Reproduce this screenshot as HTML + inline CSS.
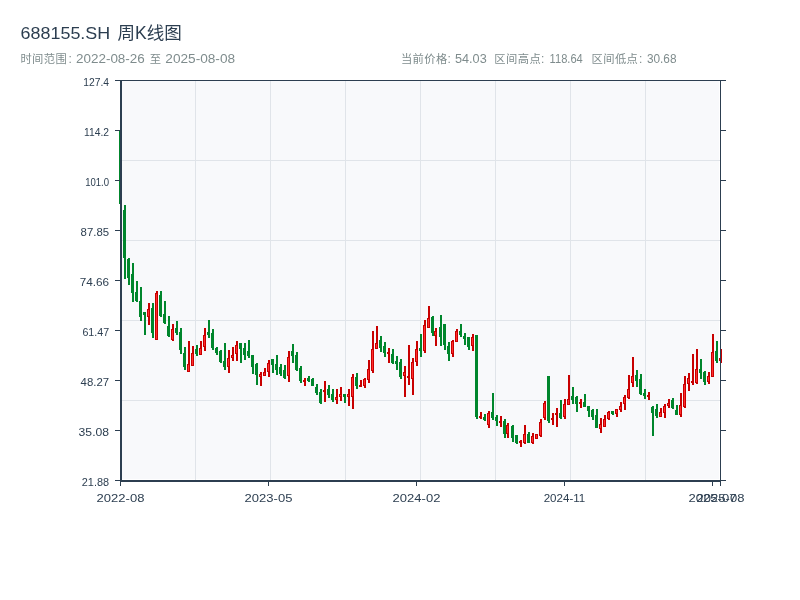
<!DOCTYPE html>
<html lang="zh-CN"><head><meta charset="utf-8"><title>688155.SH 周K线图</title>
<style>html,body{margin:0;padding:0;background:#fff}body{width:800px;height:600px;overflow:hidden}svg{display:block;will-change:transform}text{font-family:"Liberation Sans","Noto Sans CJK SC",sans-serif}.t{font-size:17.5px;fill:#2c3e50}.s{font-size:12px;fill:#7f8c8d}.l{font-size:11px;fill:#2c3e50}.c{font-size:11.3px}</style></head><body>
<svg width="800" height="600" viewBox="0 0 800 600">
<rect width="800" height="600" fill="#fff"/>
<g>
<text class="t" id="title" y="39.4"><tspan x="20.6" font-size="16.6" textLength="94.6" lengthAdjust="spacingAndGlyphs">688155.SH </tspan><tspan x="117.4" textLength="64.4" lengthAdjust="spacingAndGlyphs">周K线图</tspan></text>
<text class="s" id="sub1" y="62.6" x="20.4 32.1 43.8 55.5 68.6"><tspan class="c">时间范围</tspan>:</text>
<text class="s" id="sub2" x="76" y="62.6" textLength="68.8" lengthAdjust="spacingAndGlyphs">2022-08-26</text>
<text class="s c" id="sub3" x="149.7" y="62.6">至</text>
<text class="s" id="sub4" x="165.3" y="62.6" textLength="69.8" lengthAdjust="spacingAndGlyphs">2025-08-08</text>
<text class="s" id="st1" y="62.6" x="400.9 412.6 424.3 436.0 447.6"><tspan class="c">当前价格</tspan>:</text>
<text class="s" id="st2" x="455" y="62.6" textLength="31.7" lengthAdjust="spacingAndGlyphs">54.03</text>
<text class="s" id="st3" y="62.6" x="494.3 506.0 517.7 529.4 540.9"><tspan class="c">区间高点</tspan>:</text>
<text class="s" id="st4" x="549.6" y="62.6" textLength="33.15" lengthAdjust="spacingAndGlyphs">118.64</text>
<text class="s" id="st5" y="62.6" x="591.5 603.2 614.9 626.6 639.1"><tspan class="c">区间低点</tspan>:</text>
<text class="s" id="st6" x="646.9" y="62.6" textLength="29.6" lengthAdjust="spacingAndGlyphs">30.68</text>
</g>
<g shape-rendering="crispEdges">
<rect x="122" y="81" width="597" height="398" fill="#f8f9fb"/>
<rect x="195" y="81" width="1" height="399" fill="#e0e4e9"/>
<rect x="270" y="81" width="1" height="399" fill="#e0e4e9"/>
<rect x="345" y="81" width="1" height="399" fill="#e0e4e9"/>
<rect x="420" y="81" width="1" height="399" fill="#e0e4e9"/>
<rect x="495" y="81" width="1" height="399" fill="#e0e4e9"/>
<rect x="570" y="81" width="1" height="399" fill="#e0e4e9"/>
<rect x="645" y="81" width="1" height="399" fill="#e0e4e9"/>
<rect x="122" y="160" width="598" height="1" fill="#e0e4e9"/>
<rect x="122" y="240" width="598" height="1" fill="#e0e4e9"/>
<rect x="122" y="320" width="598" height="1" fill="#e0e4e9"/>
<rect x="122" y="400" width="598" height="1" fill="#e0e4e9"/>
<rect x="120" y="114" width="2" height="91" fill="#00862c"/>
<rect x="119" y="131" width="3" height="73" fill="#00862c"/>
<rect x="124" y="205" width="2" height="74" fill="#00862c"/>
<rect x="123" y="210" width="3" height="48" fill="#00862c"/>
<rect x="128" y="258" width="2" height="27" fill="#00862c"/>
<rect x="127" y="259" width="3" height="19" fill="#00862c"/>
<rect x="132" y="263" width="2" height="39" fill="#00862c"/>
<rect x="131" y="274" width="3" height="19" fill="#00862c"/>
<rect x="136" y="281" width="2" height="21" fill="#00862c"/>
<rect x="135" y="292" width="3" height="9" fill="#00862c"/>
<rect x="140" y="287" width="2" height="34" fill="#00862c"/>
<rect x="139" y="301" width="3" height="16" fill="#00862c"/>
<rect x="144" y="312" width="2" height="23" fill="#00862c"/>
<rect x="143" y="312" width="3" height="3" fill="#00862c"/>
<rect x="148" y="303" width="2" height="22" fill="#c80000"/>
<rect x="147" y="309" width="3" height="8" fill="#c80000"/>
<rect x="148" y="310" width="1" height="6" fill="#ff2d2d"/>
<rect x="149" y="310" width="1" height="6" fill="#c80000"/>
<rect x="152" y="303" width="2" height="35" fill="#00862c"/>
<rect x="151" y="308" width="3" height="25" fill="#00862c"/>
<rect x="156" y="291" width="2" height="49" fill="#c80000"/>
<rect x="155" y="293" width="3" height="47" fill="#c80000"/>
<rect x="156" y="294" width="1" height="45" fill="#ff2d2d"/>
<rect x="157" y="294" width="1" height="45" fill="#c80000"/>
<rect x="160" y="291" width="2" height="26" fill="#00862c"/>
<rect x="159" y="295" width="3" height="21" fill="#00862c"/>
<rect x="164" y="301" width="2" height="23" fill="#00862c"/>
<rect x="163" y="314" width="3" height="9" fill="#00862c"/>
<rect x="168" y="316" width="2" height="21" fill="#00862c"/>
<rect x="167" y="326" width="3" height="10" fill="#00862c"/>
<rect x="172" y="324" width="2" height="17" fill="#c80000"/>
<rect x="171" y="329" width="3" height="11" fill="#c80000"/>
<rect x="172" y="330" width="1" height="9" fill="#ff2d2d"/>
<rect x="173" y="330" width="1" height="9" fill="#c80000"/>
<rect x="176" y="321" width="2" height="14" fill="#00862c"/>
<rect x="175" y="328" width="3" height="5" fill="#00862c"/>
<rect x="180" y="328" width="2" height="26" fill="#00862c"/>
<rect x="179" y="332" width="3" height="18" fill="#00862c"/>
<rect x="184" y="347" width="2" height="23" fill="#00862c"/>
<rect x="183" y="353" width="3" height="14" fill="#00862c"/>
<rect x="188" y="341" width="2" height="31" fill="#c80000"/>
<rect x="187" y="364" width="3" height="8" fill="#c80000"/>
<rect x="188" y="365" width="1" height="6" fill="#ff2d2d"/>
<rect x="189" y="365" width="1" height="6" fill="#c80000"/>
<rect x="192" y="346" width="2" height="20" fill="#c80000"/>
<rect x="191" y="353" width="3" height="13" fill="#c80000"/>
<rect x="192" y="354" width="1" height="11" fill="#ff2d2d"/>
<rect x="193" y="354" width="1" height="11" fill="#c80000"/>
<rect x="196" y="345" width="2" height="11" fill="#00862c"/>
<rect x="195" y="349" width="3" height="5" fill="#00862c"/>
<rect x="200" y="341" width="2" height="14" fill="#c80000"/>
<rect x="199" y="348" width="3" height="7" fill="#c80000"/>
<rect x="200" y="349" width="1" height="5" fill="#ff2d2d"/>
<rect x="201" y="349" width="1" height="5" fill="#c80000"/>
<rect x="204" y="328" width="2" height="23" fill="#c80000"/>
<rect x="203" y="335" width="3" height="12" fill="#c80000"/>
<rect x="204" y="336" width="1" height="10" fill="#ff2d2d"/>
<rect x="205" y="336" width="1" height="10" fill="#c80000"/>
<rect x="208" y="320" width="2" height="18" fill="#00862c"/>
<rect x="207" y="332" width="3" height="3" fill="#00862c"/>
<rect x="212" y="329" width="2" height="21" fill="#00862c"/>
<rect x="211" y="333" width="3" height="15" fill="#00862c"/>
<rect x="216" y="347" width="2" height="8" fill="#00862c"/>
<rect x="215" y="348" width="3" height="5" fill="#00862c"/>
<rect x="220" y="350" width="2" height="13" fill="#00862c"/>
<rect x="219" y="351" width="3" height="11" fill="#00862c"/>
<rect x="224" y="343" width="2" height="27" fill="#00862c"/>
<rect x="223" y="361" width="3" height="6" fill="#00862c"/>
<rect x="228" y="350" width="2" height="23" fill="#c80000"/>
<rect x="227" y="358" width="3" height="9" fill="#c80000"/>
<rect x="228" y="359" width="1" height="7" fill="#ff2d2d"/>
<rect x="229" y="359" width="1" height="7" fill="#c80000"/>
<rect x="232" y="347" width="2" height="14" fill="#c80000"/>
<rect x="231" y="355" width="3" height="3" fill="#c80000"/>
<rect x="232" y="356" width="1" height="1" fill="#ff2d2d"/>
<rect x="233" y="356" width="1" height="1" fill="#c80000"/>
<rect x="236" y="341" width="2" height="20" fill="#c80000"/>
<rect x="235" y="345" width="3" height="9" fill="#c80000"/>
<rect x="236" y="346" width="1" height="7" fill="#ff2d2d"/>
<rect x="237" y="346" width="1" height="7" fill="#c80000"/>
<rect x="240" y="343" width="2" height="20" fill="#00862c"/>
<rect x="239" y="343" width="3" height="6" fill="#00862c"/>
<rect x="244" y="343" width="2" height="17" fill="#00862c"/>
<rect x="243" y="348" width="3" height="7" fill="#00862c"/>
<rect x="248" y="340" width="2" height="18" fill="#00862c"/>
<rect x="247" y="351" width="3" height="5" fill="#00862c"/>
<rect x="252" y="355" width="2" height="19" fill="#00862c"/>
<rect x="251" y="355" width="3" height="12" fill="#00862c"/>
<rect x="256" y="363" width="2" height="22" fill="#00862c"/>
<rect x="255" y="364" width="3" height="11" fill="#00862c"/>
<rect x="260" y="372" width="2" height="14" fill="#c80000"/>
<rect x="259" y="374" width="3" height="3" fill="#c80000"/>
<rect x="260" y="375" width="1" height="1" fill="#ff2d2d"/>
<rect x="261" y="375" width="1" height="1" fill="#c80000"/>
<rect x="264" y="368" width="2" height="8" fill="#c80000"/>
<rect x="263" y="372" width="3" height="4" fill="#c80000"/>
<rect x="264" y="373" width="1" height="2" fill="#ff2d2d"/>
<rect x="265" y="373" width="1" height="2" fill="#c80000"/>
<rect x="268" y="360" width="2" height="17" fill="#c80000"/>
<rect x="267" y="363" width="3" height="9" fill="#c80000"/>
<rect x="268" y="364" width="1" height="7" fill="#ff2d2d"/>
<rect x="269" y="364" width="1" height="7" fill="#c80000"/>
<rect x="272" y="359" width="2" height="14" fill="#00862c"/>
<rect x="271" y="359" width="3" height="6" fill="#00862c"/>
<rect x="276" y="355" width="2" height="20" fill="#00862c"/>
<rect x="275" y="364" width="3" height="6" fill="#00862c"/>
<rect x="280" y="364" width="2" height="12" fill="#00862c"/>
<rect x="279" y="367" width="3" height="7" fill="#00862c"/>
<rect x="284" y="365" width="2" height="14" fill="#00862c"/>
<rect x="283" y="370" width="3" height="8" fill="#00862c"/>
<rect x="288" y="351" width="2" height="31" fill="#c80000"/>
<rect x="287" y="357" width="3" height="19" fill="#c80000"/>
<rect x="288" y="358" width="1" height="17" fill="#ff2d2d"/>
<rect x="289" y="358" width="1" height="17" fill="#c80000"/>
<rect x="292" y="344" width="2" height="19" fill="#00862c"/>
<rect x="291" y="351" width="3" height="5" fill="#00862c"/>
<rect x="296" y="352" width="2" height="19" fill="#00862c"/>
<rect x="295" y="355" width="3" height="15" fill="#00862c"/>
<rect x="300" y="366" width="2" height="17" fill="#00862c"/>
<rect x="299" y="368" width="3" height="13" fill="#00862c"/>
<rect x="304" y="378" width="2" height="8" fill="#c80000"/>
<rect x="303" y="380" width="3" height="2" fill="#c80000"/>
<rect x="308" y="376" width="2" height="6" fill="#00862c"/>
<rect x="307" y="378" width="3" height="3" fill="#00862c"/>
<rect x="312" y="378" width="2" height="8" fill="#00862c"/>
<rect x="311" y="379" width="3" height="7" fill="#00862c"/>
<rect x="316" y="384" width="2" height="11" fill="#00862c"/>
<rect x="315" y="387" width="3" height="6" fill="#00862c"/>
<rect x="320" y="389" width="2" height="15" fill="#00862c"/>
<rect x="319" y="392" width="3" height="11" fill="#00862c"/>
<rect x="324" y="381" width="2" height="21" fill="#c80000"/>
<rect x="323" y="390" width="3" height="2" fill="#c80000"/>
<rect x="328" y="385" width="2" height="13" fill="#00862c"/>
<rect x="327" y="389" width="3" height="6" fill="#00862c"/>
<rect x="332" y="389" width="2" height="13" fill="#00862c"/>
<rect x="331" y="394" width="3" height="6" fill="#00862c"/>
<rect x="336" y="389" width="2" height="15" fill="#c80000"/>
<rect x="335" y="397" width="3" height="3" fill="#c80000"/>
<rect x="336" y="398" width="1" height="1" fill="#ff2d2d"/>
<rect x="337" y="398" width="1" height="1" fill="#c80000"/>
<rect x="340" y="387" width="2" height="14" fill="#c80000"/>
<rect x="339" y="394" width="3" height="3" fill="#c80000"/>
<rect x="340" y="395" width="1" height="1" fill="#ff2d2d"/>
<rect x="341" y="395" width="1" height="1" fill="#c80000"/>
<rect x="344" y="394" width="2" height="9" fill="#00862c"/>
<rect x="343" y="394" width="3" height="3" fill="#00862c"/>
<rect x="348" y="389" width="2" height="17" fill="#c80000"/>
<rect x="347" y="394" width="3" height="3" fill="#c80000"/>
<rect x="348" y="395" width="1" height="1" fill="#ff2d2d"/>
<rect x="349" y="395" width="1" height="1" fill="#c80000"/>
<rect x="352" y="374" width="2" height="35" fill="#c80000"/>
<rect x="351" y="377" width="3" height="20" fill="#c80000"/>
<rect x="352" y="378" width="1" height="18" fill="#ff2d2d"/>
<rect x="353" y="378" width="1" height="18" fill="#c80000"/>
<rect x="356" y="373" width="2" height="16" fill="#00862c"/>
<rect x="355" y="377" width="3" height="9" fill="#00862c"/>
<rect x="360" y="380" width="2" height="7" fill="#c80000"/>
<rect x="359" y="385" width="3" height="2" fill="#c80000"/>
<rect x="364" y="378" width="2" height="10" fill="#c80000"/>
<rect x="363" y="379" width="3" height="7" fill="#c80000"/>
<rect x="364" y="380" width="1" height="5" fill="#ff2d2d"/>
<rect x="365" y="380" width="1" height="5" fill="#c80000"/>
<rect x="368" y="360" width="2" height="23" fill="#c80000"/>
<rect x="367" y="369" width="3" height="11" fill="#c80000"/>
<rect x="368" y="370" width="1" height="9" fill="#ff2d2d"/>
<rect x="369" y="370" width="1" height="9" fill="#c80000"/>
<rect x="372" y="331" width="2" height="42" fill="#c80000"/>
<rect x="371" y="349" width="3" height="22" fill="#c80000"/>
<rect x="372" y="350" width="1" height="20" fill="#ff2d2d"/>
<rect x="373" y="350" width="1" height="20" fill="#c80000"/>
<rect x="376" y="326" width="2" height="23" fill="#c80000"/>
<rect x="375" y="343" width="3" height="6" fill="#c80000"/>
<rect x="376" y="344" width="1" height="4" fill="#ff2d2d"/>
<rect x="377" y="344" width="1" height="4" fill="#c80000"/>
<rect x="380" y="336" width="2" height="16" fill="#00862c"/>
<rect x="379" y="340" width="3" height="8" fill="#00862c"/>
<rect x="384" y="342" width="2" height="15" fill="#00862c"/>
<rect x="383" y="346" width="3" height="7" fill="#00862c"/>
<rect x="388" y="348" width="2" height="15" fill="#c80000"/>
<rect x="387" y="352" width="3" height="2" fill="#c80000"/>
<rect x="392" y="349" width="2" height="15" fill="#00862c"/>
<rect x="391" y="354" width="3" height="9" fill="#00862c"/>
<rect x="396" y="356" width="2" height="14" fill="#00862c"/>
<rect x="395" y="361" width="3" height="3" fill="#00862c"/>
<rect x="400" y="359" width="2" height="20" fill="#00862c"/>
<rect x="399" y="362" width="3" height="15" fill="#00862c"/>
<rect x="404" y="366" width="2" height="31" fill="#c80000"/>
<rect x="403" y="372" width="3" height="4" fill="#c80000"/>
<rect x="404" y="373" width="1" height="2" fill="#ff2d2d"/>
<rect x="405" y="373" width="1" height="2" fill="#c80000"/>
<rect x="408" y="345" width="2" height="40" fill="#c80000"/>
<rect x="407" y="376" width="3" height="2" fill="#c80000"/>
<rect x="412" y="358" width="2" height="37" fill="#c80000"/>
<rect x="411" y="362" width="3" height="17" fill="#c80000"/>
<rect x="412" y="363" width="1" height="15" fill="#ff2d2d"/>
<rect x="413" y="363" width="1" height="15" fill="#c80000"/>
<rect x="416" y="341" width="2" height="25" fill="#c80000"/>
<rect x="415" y="349" width="3" height="13" fill="#c80000"/>
<rect x="416" y="350" width="1" height="11" fill="#ff2d2d"/>
<rect x="417" y="350" width="1" height="11" fill="#c80000"/>
<rect x="420" y="334" width="2" height="23" fill="#00862c"/>
<rect x="419" y="348" width="3" height="3" fill="#00862c"/>
<rect x="424" y="320" width="2" height="33" fill="#c80000"/>
<rect x="423" y="325" width="3" height="26" fill="#c80000"/>
<rect x="424" y="326" width="1" height="24" fill="#ff2d2d"/>
<rect x="425" y="326" width="1" height="24" fill="#c80000"/>
<rect x="428" y="306" width="2" height="22" fill="#c80000"/>
<rect x="427" y="318" width="3" height="10" fill="#c80000"/>
<rect x="428" y="319" width="1" height="8" fill="#ff2d2d"/>
<rect x="429" y="319" width="1" height="8" fill="#c80000"/>
<rect x="432" y="316" width="2" height="20" fill="#00862c"/>
<rect x="431" y="317" width="3" height="16" fill="#00862c"/>
<rect x="435" y="328" width="2" height="18" fill="#c80000"/>
<rect x="434" y="331" width="3" height="5" fill="#c80000"/>
<rect x="435" y="332" width="1" height="3" fill="#ff2d2d"/>
<rect x="436" y="332" width="1" height="3" fill="#c80000"/>
<rect x="440" y="315" width="2" height="31" fill="#00862c"/>
<rect x="439" y="327" width="3" height="10" fill="#00862c"/>
<rect x="444" y="324" width="2" height="26" fill="#00862c"/>
<rect x="443" y="324" width="3" height="21" fill="#00862c"/>
<rect x="448" y="342" width="2" height="19" fill="#00862c"/>
<rect x="447" y="346" width="3" height="8" fill="#00862c"/>
<rect x="452" y="340" width="2" height="17" fill="#c80000"/>
<rect x="451" y="341" width="3" height="13" fill="#c80000"/>
<rect x="452" y="342" width="1" height="11" fill="#ff2d2d"/>
<rect x="453" y="342" width="1" height="11" fill="#c80000"/>
<rect x="456" y="329" width="2" height="13" fill="#c80000"/>
<rect x="455" y="331" width="3" height="11" fill="#c80000"/>
<rect x="456" y="332" width="1" height="9" fill="#ff2d2d"/>
<rect x="457" y="332" width="1" height="9" fill="#c80000"/>
<rect x="460" y="324" width="2" height="13" fill="#00862c"/>
<rect x="459" y="331" width="3" height="4" fill="#00862c"/>
<rect x="464" y="333" width="2" height="12" fill="#00862c"/>
<rect x="463" y="336" width="3" height="3" fill="#00862c"/>
<rect x="468" y="337" width="2" height="13" fill="#00862c"/>
<rect x="467" y="337" width="3" height="10" fill="#00862c"/>
<rect x="472" y="334" width="2" height="17" fill="#c80000"/>
<rect x="471" y="337" width="3" height="9" fill="#c80000"/>
<rect x="472" y="338" width="1" height="7" fill="#ff2d2d"/>
<rect x="473" y="338" width="1" height="7" fill="#c80000"/>
<rect x="476" y="335" width="2" height="84" fill="#00862c"/>
<rect x="475" y="335" width="3" height="82" fill="#00862c"/>
<rect x="480" y="412" width="2" height="7" fill="#c80000"/>
<rect x="479" y="416" width="3" height="2" fill="#c80000"/>
<rect x="484" y="414" width="2" height="7" fill="#00862c"/>
<rect x="483" y="417" width="3" height="3" fill="#00862c"/>
<rect x="488" y="411" width="2" height="17" fill="#c80000"/>
<rect x="487" y="413" width="3" height="12" fill="#c80000"/>
<rect x="488" y="414" width="1" height="10" fill="#ff2d2d"/>
<rect x="489" y="414" width="1" height="10" fill="#c80000"/>
<rect x="492" y="393" width="2" height="27" fill="#00862c"/>
<rect x="491" y="412" width="3" height="6" fill="#00862c"/>
<rect x="496" y="415" width="2" height="11" fill="#00862c"/>
<rect x="495" y="417" width="3" height="4" fill="#00862c"/>
<rect x="500" y="416" width="2" height="11" fill="#c80000"/>
<rect x="499" y="421" width="3" height="2" fill="#c80000"/>
<rect x="504" y="419" width="2" height="19" fill="#00862c"/>
<rect x="503" y="421" width="3" height="13" fill="#00862c"/>
<rect x="507" y="423" width="2" height="15" fill="#c80000"/>
<rect x="506" y="425" width="3" height="9" fill="#c80000"/>
<rect x="507" y="426" width="1" height="7" fill="#ff2d2d"/>
<rect x="508" y="426" width="1" height="7" fill="#c80000"/>
<rect x="512" y="425" width="2" height="17" fill="#00862c"/>
<rect x="511" y="426" width="3" height="12" fill="#00862c"/>
<rect x="516" y="435" width="2" height="9" fill="#00862c"/>
<rect x="515" y="435" width="3" height="8" fill="#00862c"/>
<rect x="520" y="440" width="2" height="7" fill="#c80000"/>
<rect x="519" y="441" width="3" height="2" fill="#c80000"/>
<rect x="524" y="425" width="2" height="19" fill="#c80000"/>
<rect x="523" y="434" width="3" height="9" fill="#c80000"/>
<rect x="524" y="435" width="1" height="7" fill="#ff2d2d"/>
<rect x="525" y="435" width="1" height="7" fill="#c80000"/>
<rect x="528" y="432" width="2" height="11" fill="#00862c"/>
<rect x="527" y="434" width="3" height="9" fill="#00862c"/>
<rect x="532" y="433" width="2" height="11" fill="#c80000"/>
<rect x="531" y="436" width="3" height="7" fill="#c80000"/>
<rect x="532" y="437" width="1" height="5" fill="#ff2d2d"/>
<rect x="533" y="437" width="1" height="5" fill="#c80000"/>
<rect x="536" y="434" width="2" height="5" fill="#c80000"/>
<rect x="535" y="434" width="3" height="5" fill="#c80000"/>
<rect x="536" y="435" width="1" height="3" fill="#ff2d2d"/>
<rect x="537" y="435" width="1" height="3" fill="#c80000"/>
<rect x="540" y="419" width="2" height="18" fill="#c80000"/>
<rect x="539" y="422" width="3" height="14" fill="#c80000"/>
<rect x="540" y="423" width="1" height="12" fill="#ff2d2d"/>
<rect x="541" y="423" width="1" height="12" fill="#c80000"/>
<rect x="544" y="401" width="2" height="19" fill="#c80000"/>
<rect x="543" y="403" width="3" height="15" fill="#c80000"/>
<rect x="544" y="404" width="1" height="13" fill="#ff2d2d"/>
<rect x="545" y="404" width="1" height="13" fill="#c80000"/>
<rect x="548" y="376" width="2" height="47" fill="#00862c"/>
<rect x="547" y="376" width="3" height="45" fill="#00862c"/>
<rect x="552" y="413" width="2" height="12" fill="#c80000"/>
<rect x="551" y="418" width="3" height="2" fill="#c80000"/>
<rect x="556" y="408" width="2" height="19" fill="#c80000"/>
<rect x="555" y="413" width="3" height="2" fill="#c80000"/>
<rect x="560" y="400" width="2" height="19" fill="#00862c"/>
<rect x="559" y="413" width="3" height="5" fill="#00862c"/>
<rect x="564" y="399" width="2" height="20" fill="#c80000"/>
<rect x="563" y="404" width="3" height="13" fill="#c80000"/>
<rect x="564" y="405" width="1" height="11" fill="#ff2d2d"/>
<rect x="565" y="405" width="1" height="11" fill="#c80000"/>
<rect x="568" y="375" width="2" height="30" fill="#c80000"/>
<rect x="567" y="399" width="3" height="6" fill="#c80000"/>
<rect x="568" y="400" width="1" height="4" fill="#ff2d2d"/>
<rect x="569" y="400" width="1" height="4" fill="#c80000"/>
<rect x="572" y="387" width="2" height="17" fill="#00862c"/>
<rect x="571" y="396" width="3" height="4" fill="#00862c"/>
<rect x="576" y="396" width="2" height="16" fill="#00862c"/>
<rect x="575" y="397" width="3" height="7" fill="#00862c"/>
<rect x="580" y="399" width="2" height="9" fill="#c80000"/>
<rect x="579" y="402" width="3" height="2" fill="#c80000"/>
<rect x="584" y="394" width="2" height="13" fill="#00862c"/>
<rect x="583" y="402" width="3" height="5" fill="#00862c"/>
<rect x="588" y="406" width="2" height="11" fill="#00862c"/>
<rect x="587" y="406" width="3" height="5" fill="#00862c"/>
<rect x="592" y="409" width="2" height="11" fill="#00862c"/>
<rect x="591" y="410" width="3" height="7" fill="#00862c"/>
<rect x="596" y="409" width="2" height="19" fill="#00862c"/>
<rect x="595" y="415" width="3" height="13" fill="#00862c"/>
<rect x="600" y="418" width="2" height="15" fill="#c80000"/>
<rect x="599" y="424" width="3" height="5" fill="#c80000"/>
<rect x="600" y="425" width="1" height="3" fill="#ff2d2d"/>
<rect x="601" y="425" width="1" height="3" fill="#c80000"/>
<rect x="604" y="415" width="2" height="12" fill="#c80000"/>
<rect x="603" y="419" width="3" height="8" fill="#c80000"/>
<rect x="604" y="420" width="1" height="6" fill="#ff2d2d"/>
<rect x="605" y="420" width="1" height="6" fill="#c80000"/>
<rect x="608" y="411" width="2" height="9" fill="#c80000"/>
<rect x="607" y="412" width="3" height="7" fill="#c80000"/>
<rect x="608" y="413" width="1" height="5" fill="#ff2d2d"/>
<rect x="609" y="413" width="1" height="5" fill="#c80000"/>
<rect x="612" y="411" width="2" height="4" fill="#00862c"/>
<rect x="611" y="411" width="3" height="3" fill="#00862c"/>
<rect x="616" y="409" width="2" height="8" fill="#c80000"/>
<rect x="615" y="409" width="3" height="5" fill="#c80000"/>
<rect x="616" y="410" width="1" height="3" fill="#ff2d2d"/>
<rect x="617" y="410" width="1" height="3" fill="#c80000"/>
<rect x="620" y="402" width="2" height="10" fill="#c80000"/>
<rect x="619" y="406" width="3" height="4" fill="#c80000"/>
<rect x="620" y="407" width="1" height="2" fill="#ff2d2d"/>
<rect x="621" y="407" width="1" height="2" fill="#c80000"/>
<rect x="624" y="395" width="2" height="15" fill="#c80000"/>
<rect x="623" y="397" width="3" height="7" fill="#c80000"/>
<rect x="624" y="398" width="1" height="5" fill="#ff2d2d"/>
<rect x="625" y="398" width="1" height="5" fill="#c80000"/>
<rect x="628" y="375" width="2" height="24" fill="#c80000"/>
<rect x="627" y="389" width="3" height="9" fill="#c80000"/>
<rect x="628" y="390" width="1" height="7" fill="#ff2d2d"/>
<rect x="629" y="390" width="1" height="7" fill="#c80000"/>
<rect x="632" y="357" width="2" height="30" fill="#c80000"/>
<rect x="631" y="376" width="3" height="7" fill="#c80000"/>
<rect x="632" y="377" width="1" height="5" fill="#ff2d2d"/>
<rect x="633" y="377" width="1" height="5" fill="#c80000"/>
<rect x="636" y="370" width="2" height="17" fill="#00862c"/>
<rect x="635" y="375" width="3" height="6" fill="#00862c"/>
<rect x="640" y="374" width="2" height="21" fill="#00862c"/>
<rect x="639" y="379" width="3" height="15" fill="#00862c"/>
<rect x="644" y="389" width="2" height="10" fill="#00862c"/>
<rect x="643" y="393" width="3" height="3" fill="#00862c"/>
<rect x="648" y="392" width="2" height="8" fill="#c80000"/>
<rect x="647" y="395" width="3" height="2" fill="#c80000"/>
<rect x="652" y="406" width="2" height="30" fill="#00862c"/>
<rect x="651" y="407" width="3" height="6" fill="#00862c"/>
<rect x="656" y="404" width="2" height="14" fill="#00862c"/>
<rect x="655" y="409" width="3" height="7" fill="#00862c"/>
<rect x="660" y="408" width="2" height="9" fill="#c80000"/>
<rect x="659" y="412" width="3" height="5" fill="#c80000"/>
<rect x="660" y="413" width="1" height="3" fill="#ff2d2d"/>
<rect x="661" y="413" width="1" height="3" fill="#c80000"/>
<rect x="664" y="404" width="2" height="14" fill="#c80000"/>
<rect x="663" y="406" width="3" height="7" fill="#c80000"/>
<rect x="664" y="407" width="1" height="5" fill="#ff2d2d"/>
<rect x="665" y="407" width="1" height="5" fill="#c80000"/>
<rect x="668" y="399" width="2" height="9" fill="#c80000"/>
<rect x="667" y="403" width="3" height="3" fill="#c80000"/>
<rect x="668" y="404" width="1" height="1" fill="#ff2d2d"/>
<rect x="669" y="404" width="1" height="1" fill="#c80000"/>
<rect x="672" y="398" width="2" height="11" fill="#00862c"/>
<rect x="671" y="400" width="3" height="8" fill="#00862c"/>
<rect x="676" y="405" width="2" height="10" fill="#00862c"/>
<rect x="675" y="410" width="3" height="5" fill="#00862c"/>
<rect x="680" y="393" width="2" height="24" fill="#c80000"/>
<rect x="679" y="405" width="3" height="10" fill="#c80000"/>
<rect x="680" y="406" width="1" height="8" fill="#ff2d2d"/>
<rect x="681" y="406" width="1" height="8" fill="#c80000"/>
<rect x="684" y="376" width="2" height="32" fill="#c80000"/>
<rect x="683" y="384" width="3" height="23" fill="#c80000"/>
<rect x="684" y="385" width="1" height="21" fill="#ff2d2d"/>
<rect x="685" y="385" width="1" height="21" fill="#c80000"/>
<rect x="688" y="373" width="2" height="18" fill="#c80000"/>
<rect x="687" y="378" width="3" height="6" fill="#c80000"/>
<rect x="688" y="379" width="1" height="4" fill="#ff2d2d"/>
<rect x="689" y="379" width="1" height="4" fill="#c80000"/>
<rect x="692" y="354" width="2" height="31" fill="#c80000"/>
<rect x="691" y="381" width="3" height="2" fill="#c80000"/>
<rect x="696" y="349" width="2" height="35" fill="#c80000"/>
<rect x="695" y="369" width="3" height="14" fill="#c80000"/>
<rect x="696" y="370" width="1" height="12" fill="#ff2d2d"/>
<rect x="697" y="370" width="1" height="12" fill="#c80000"/>
<rect x="700" y="359" width="2" height="20" fill="#00862c"/>
<rect x="699" y="369" width="3" height="4" fill="#00862c"/>
<rect x="704" y="371" width="2" height="14" fill="#00862c"/>
<rect x="703" y="372" width="3" height="10" fill="#00862c"/>
<rect x="708" y="372" width="2" height="12" fill="#c80000"/>
<rect x="707" y="376" width="3" height="6" fill="#c80000"/>
<rect x="708" y="377" width="1" height="4" fill="#ff2d2d"/>
<rect x="709" y="377" width="1" height="4" fill="#c80000"/>
<rect x="712" y="334" width="2" height="43" fill="#c80000"/>
<rect x="711" y="352" width="3" height="25" fill="#c80000"/>
<rect x="712" y="353" width="1" height="23" fill="#ff2d2d"/>
<rect x="713" y="353" width="1" height="23" fill="#c80000"/>
<rect x="716" y="341" width="2" height="22" fill="#00862c"/>
<rect x="715" y="351" width="3" height="10" fill="#00862c"/>
<rect x="720" y="349" width="2" height="14" fill="#c80000"/>
<rect x="719" y="358" width="3" height="3" fill="#c80000"/>
<rect x="720" y="359" width="1" height="1" fill="#ff2d2d"/>
<rect x="721" y="359" width="1" height="1" fill="#c80000"/>
<rect x="115" y="80" width="611" height="1" fill="#2c3e50"/>
<rect x="720" y="80" width="1" height="401" fill="#2c3e50"/>
<rect x="115" y="80" width="5" height="1" fill="#2c3e50"/>
<rect x="721" y="80" width="5" height="1" fill="#2c3e50"/>
<rect x="115" y="130" width="5" height="1" fill="#2c3e50"/>
<rect x="721" y="130" width="5" height="1" fill="#2c3e50"/>
<rect x="115" y="180" width="5" height="1" fill="#2c3e50"/>
<rect x="721" y="180" width="5" height="1" fill="#2c3e50"/>
<rect x="115" y="230" width="5" height="1" fill="#2c3e50"/>
<rect x="721" y="230" width="5" height="1" fill="#2c3e50"/>
<rect x="115" y="280" width="5" height="1" fill="#2c3e50"/>
<rect x="721" y="280" width="5" height="1" fill="#2c3e50"/>
<rect x="115" y="330" width="5" height="1" fill="#2c3e50"/>
<rect x="721" y="330" width="5" height="1" fill="#2c3e50"/>
<rect x="115" y="380" width="5" height="1" fill="#2c3e50"/>
<rect x="721" y="380" width="5" height="1" fill="#2c3e50"/>
<rect x="115" y="430" width="5" height="1" fill="#2c3e50"/>
<rect x="721" y="430" width="5" height="1" fill="#2c3e50"/>
<rect x="115" y="480" width="5" height="1" fill="#2c3e50"/>
<rect x="721" y="480" width="5" height="1" fill="#2c3e50"/>
<rect x="120" y="482" width="1" height="4" fill="#2c3e50"/>
<rect x="268" y="482" width="1" height="4" fill="#2c3e50"/>
<rect x="416" y="482" width="1" height="4" fill="#2c3e50"/>
<rect x="564" y="482" width="1" height="4" fill="#2c3e50"/>
<rect x="712" y="482" width="1" height="4" fill="#2c3e50"/>
<rect x="720" y="482" width="1" height="4" fill="#2c3e50"/>
<rect x="120" y="80" width="2" height="402" fill="#2c3e50"/>
<rect x="120" y="480" width="601" height="2" fill="#2c3e50"/>
</g>
<g>
<text class="l" id="y0" x="83.3" y="86" textLength="25.8" lengthAdjust="spacingAndGlyphs">127.4</text>
<text class="l" id="y1" x="84.1" y="136" textLength="25" lengthAdjust="spacingAndGlyphs">114.2</text>
<text class="l" id="y2" x="85.2" y="186" textLength="23.9" lengthAdjust="spacingAndGlyphs">101.0</text>
<text class="l" id="y3" x="80.6" y="236" textLength="28.5" lengthAdjust="spacingAndGlyphs">87.85</text>
<text class="l" id="y4" x="79.7" y="286" textLength="29.4" lengthAdjust="spacingAndGlyphs">74.66</text>
<text class="l" id="y5" x="82.4" y="336" textLength="26.7" lengthAdjust="spacingAndGlyphs">61.47</text>
<text class="l" id="y6" x="80.6" y="386" textLength="28.5" lengthAdjust="spacingAndGlyphs">48.27</text>
<text class="l" id="y7" x="78.6" y="436" textLength="30.5" lengthAdjust="spacingAndGlyphs">35.08</text>
<text class="l" id="y8" x="81.8" y="486" textLength="27.3" lengthAdjust="spacingAndGlyphs">21.88</text>
<text class="l" id="x0" x="96.6" y="502.4" textLength="47.8" lengthAdjust="spacingAndGlyphs">2022-08</text>
<text class="l" id="x1" x="244.6" y="502.4" textLength="47.8" lengthAdjust="spacingAndGlyphs">2023-05</text>
<text class="l" id="x2" x="392.6" y="502.4" textLength="47.8" lengthAdjust="spacingAndGlyphs">2024-02</text>
<text class="l" id="x3" x="543.7" y="502.4" textLength="41.6" lengthAdjust="spacingAndGlyphs">2024-11</text>
<text class="l" id="x4" x="688.6" y="502.4" textLength="47.8" lengthAdjust="spacingAndGlyphs">2025-07</text>
<text class="l" id="x5" x="696.6" y="502.4" textLength="47.8" lengthAdjust="spacingAndGlyphs">2025-08</text>
</g>
</svg></body></html>
